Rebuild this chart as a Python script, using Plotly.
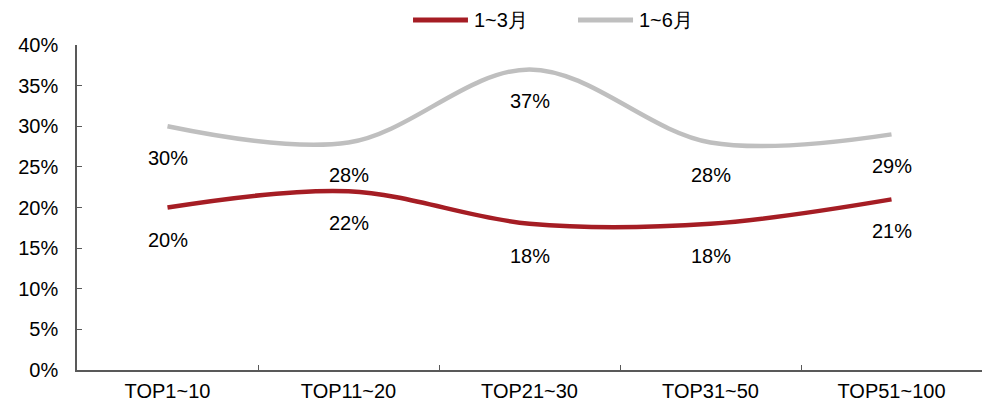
import plotly.graph_objects as go

categories = ["TOP1~10", "TOP11~20", "TOP21~30", "TOP31~50", "TOP51~100"]
q1_values = [20, 22, 18, 18, 21]
h1_values = [30, 28, 37, 28, 29]
series_names = ["1~3月", "1~6月"]
colors = ["#A51D24", "#BFBFBF"]

font_family = "Liberation Sans, Arial, sans-serif"
axis_color = "#595959"
font_size = 20

fig = go.Figure()
for name, vals, col in zip(series_names, [q1_values, h1_values], colors):
    fig.add_trace(go.Scatter(
        x=categories, y=vals, name=name, mode="lines",
        line=dict(color=col, width=4.5, shape="spline", smoothing=1.0),
        hoverinfo="skip", showlegend=False,
    ))
    for c, v in zip(categories, vals):
        fig.add_annotation(
            x=c, y=v, text=f"{v}%", showarrow=False,
            yshift=-32, font=dict(family=font_family, size=font_size, color="#000000"),
        )

# legend drawn as line swatches + labels above the plot
legend_y = 1.077
legend_items = [(0.3713, 0.4320, 0.4365), (0.5536, 0.6144, 0.6188)]
for (x0, x1, xt), name, col in zip(legend_items, series_names, colors):
    fig.add_shape(type="line", xref="paper", yref="paper",
                  x0=x0, x1=x1, y0=legend_y, y1=legend_y,
                  line=dict(color=col, width=5))
    fig.add_annotation(xref="paper", yref="paper", x=xt, y=legend_y,
                       xanchor="left", yanchor="middle", text=name, showarrow=False,
                       font=dict(family=font_family, size=font_size, color="#000000"))

fig.update_layout(
    width=992, height=403,
    margin=dict(l=77, r=10, t=45, b=33),
    paper_bgcolor="white", plot_bgcolor="white",
    font=dict(family=font_family, size=font_size, color="#000000"),
    showlegend=False,
    xaxis=dict(
        showline=True, linecolor=axis_color, linewidth=1.5,
        ticks="inside", tickson="boundaries", ticklen=5, tickcolor=axis_color,
        showgrid=False, range=[-0.5, 4.5], ticklabelstandoff=2, automargin=False,
    ),
    yaxis=dict(
        range=[0, 40], dtick=5, ticksuffix="%",
        showline=True, linecolor=axis_color, linewidth=1.5,
        ticks="inside", ticklen=5, tickcolor=axis_color,
        showgrid=False, zeroline=False, ticklabelstandoff=13, automargin=False,
    ),
)

fig.write_html("out.html")
